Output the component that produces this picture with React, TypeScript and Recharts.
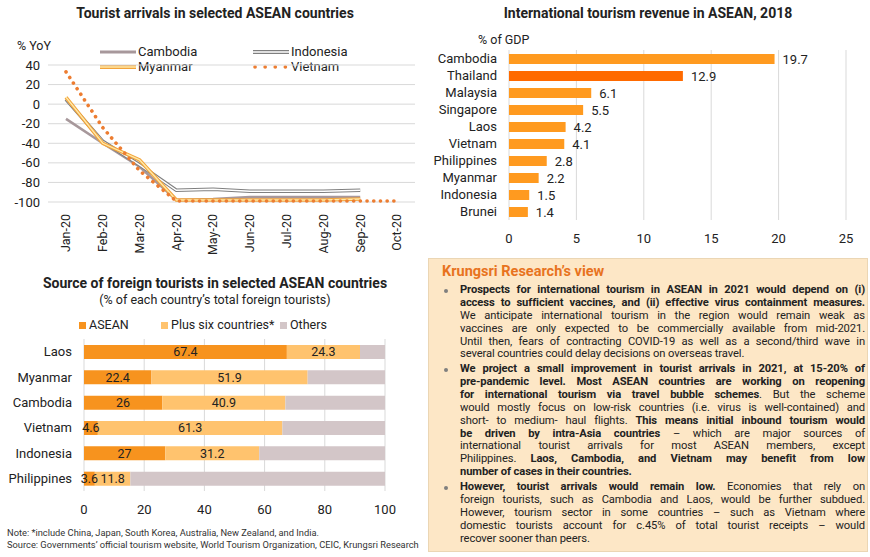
import React from 'react';
import {
  LineChart,
  Line,
  BarChart,
  Bar,
  XAxis,
  YAxis,
  CartesianGrid,
  Cell,
  LabelList,
} from 'recharts';

// Tourist arrivals, % YoY
const months = ['Jan-20', 'Feb-20', 'Mar-20', 'Apr-20', 'May-20', 'Jun-20', 'Jul-20', 'Aug-20', 'Sep-20', 'Oct-20'];
const cambodiaYoY = [-15, -40, -64, -98, -97, -95, -95, -95, -95, null];
const indonesiaYoY = [5, -38, -62, -88, -87, -89, -89, -89, -88, null];
const myanmarYoY = [7, -40, -57, -98, -98, -98, -98, -98, -97, null];
const vietnamYoY = [33, -24, -68, -99, -99, -99, -99, -99, -99, -99];
const yoyTicks = [40, 20, 0, -20, -40, -60, -80, -100];

// International tourism revenue, % of GDP, 2018
const revenueCountries = ['Cambodia', 'Thailand', 'Malaysia', 'Singapore', 'Laos', 'Vietnam', 'Philippines', 'Myanmar', 'Indonesia', 'Brunei'];
const revenueShare = [19.7, 12.9, 6.1, 5.5, 4.2, 4.1, 2.8, 2.2, 1.5, 1.4];
const revenueTicks = [0, 5, 10, 15, 20, 25];

// Source of foreign tourists, % of total
const sourceCountries = ['Laos', 'Myanmar', 'Cambodia', 'Vietnam', 'Indonesia', 'Philippines'];
const aseanShare = [67.4, 22.4, 26, 4.6, 27, 3.6];
const plusSixShare = [24.3, 51.9, 40.9, 61.3, 31.2, 11.8];
const shareTicks = [0, 20, 40, 60, 80, 100];

const FONT = 'Roboto, "Liberation Sans", sans-serif';
const TEXT = '#222';

const lineData = months.map((m, i) => ({
  month: m,
  Cambodia: cambodiaYoY[i],
  Indonesia: indonesiaYoY[i],
  Myanmar: myanmarYoY[i],
  Vietnam: vietnamYoY[i],
}));

const revenueData = revenueCountries.map((c, i) => ({ country: c, value: revenueShare[i] }));

const sourceData = sourceCountries.map((c, i) => ({
  country: c,
  asean: aseanShare[i],
  plusSix: plusSixShare[i],
  others: +(100 - aseanShare[i] - plusSixShare[i]).toFixed(1),
}));

const MonthTick = ({ x, y, payload }: any) => (
  <g transform={`translate(${x},${y})`}>
    <text transform="rotate(-90)" x={-4} y={0} dy="0.35em" textAnchor="end" fontSize={12.5} fill={TEXT} fontFamily={FONT}>
      {payload.value}
    </text>
  </g>
);

const LegendSwatch = ({ kind }: { kind: string }) => {
  if (kind === 'Cambodia')
    return <svg width={36} height={8}><line x1={0} y1={4} x2={36} y2={4} stroke="#A7989B" strokeWidth={3} /></svg>;
  if (kind === 'Indonesia')
    return (
      <svg width={36} height={8}>
        <line x1={0} y1={4} x2={36} y2={4} stroke="#7F7F7F" strokeWidth={4} />
        <line x1={0} y1={4} x2={36} y2={4} stroke="#fff" strokeWidth={1.6} />
      </svg>
    );
  if (kind === 'Myanmar')
    return (
      <svg width={36} height={8}>
        <line x1={0} y1={4} x2={36} y2={4} stroke="#F2A33A" strokeWidth={4} />
        <line x1={0} y1={4} x2={36} y2={4} stroke="#FFE9A8" strokeWidth={1.6} />
      </svg>
    );
  return (
    <svg width={36} height={8}>
      <line x1={2} y1={4} x2={36} y2={4} stroke="#ED7D31" strokeWidth={3.6} strokeDasharray="0.1 10" strokeLinecap="round" />
    </svg>
  );
};

const lineLegend = [
  { name: 'Cambodia', left: 100, top: 45 },
  { name: 'Indonesia', left: 253, top: 45 },
  { name: 'Myanmar', left: 100, top: 60 },
  { name: 'Vietnam', left: 253, top: 60 },
];

const ArrivalsChart = () => (
  <div style={{ position: 'absolute', left: 0, top: 0, width: 430, height: 260 }}>
    <div style={{ position: 'absolute', left: 0, width: 430, top: 5, textAlign: 'center', fontWeight: 700, fontSize: 14, color: TEXT, fontFamily: FONT }}>
      Tourist arrivals in selected ASEAN countries
    </div>
    <div style={{ position: 'absolute', left: 17, top: 38, fontSize: 12.5, color: TEXT, fontFamily: FONT }}>% YoY</div>
    {lineLegend.map((l) => (
      <div key={l.name} style={{ position: 'absolute', left: l.left, top: l.top, display: 'flex', alignItems: 'center', fontSize: 13, color: TEXT, fontFamily: FONT, lineHeight: '14px' }}>
        <LegendSwatch kind={l.name} />
        <span style={{ marginLeft: 2 }}>{l.name}</span>
      </div>
    ))}
    <div style={{ position: 'absolute', left: 0, top: 0 }}>
      <LineChart width={430} height={260} data={lineData} margin={{ top: 65, right: 15, left: 0, bottom: 0 }}>
        <CartesianGrid vertical={false} stroke="#D9D9D9" />
        <XAxis dataKey="month" padding={{ left: 18, right: 18 }} axisLine={false} tickLine={false} height={58} interval={0} tick={<MonthTick />} />
        <YAxis domain={[-100, 40]} ticks={yoyTicks} interval={0} width={48} axisLine={false} tickLine={false} tickMargin={2} tick={{ fontSize: 13, fill: TEXT, fontFamily: FONT }} />
        <Line dataKey="Cambodia" stroke="#A7989B" strokeWidth={2.6} dot={false} isAnimationActive={false} />
        <Line dataKey="Indonesia" stroke="#7F7F7F" strokeWidth={3.6} dot={false} isAnimationActive={false} />
        <Line dataKey="Indonesia" stroke="#FFFFFF" strokeWidth={1.4} dot={false} isAnimationActive={false} legendType="none" />
        <Line dataKey="Myanmar" stroke="#F2A33A" strokeWidth={3.6} dot={false} isAnimationActive={false} />
        <Line dataKey="Myanmar" stroke="#FFE9A8" strokeWidth={1.4} dot={false} isAnimationActive={false} legendType="none" />
        <Line dataKey="Vietnam" stroke="#ED7D31" strokeWidth={3.6} strokeDasharray="0.1 6.6" strokeLinecap="round" dot={false} isAnimationActive={false} />
      </LineChart>
    </div>
  </div>
);

const RevenueChart = () => (
  <div style={{ position: 'absolute', left: 430, top: 0, width: 440, height: 250 }}>
    <div style={{ position: 'absolute', left: 0, width: 436, top: 5, textAlign: 'center', fontWeight: 700, fontSize: 14, color: TEXT, fontFamily: FONT }}>
      International tourism revenue in ASEAN, 2018
    </div>
    <div style={{ position: 'absolute', left: 48, top: 32, fontSize: 12.5, color: TEXT, fontFamily: FONT }}>% of GDP</div>
    <div style={{ position: 'absolute', left: 0, top: 0 }}>
      <BarChart layout="vertical" width={440} height={250} data={revenueData} margin={{ top: 50, right: 24, left: 0, bottom: 5 }} barSize={10}>
        <CartesianGrid horizontal={false} stroke="#D9D9D9" />
        <XAxis type="number" domain={[0, 25]} ticks={revenueTicks} axisLine={false} tickLine={false} height={25} tickMargin={8} tick={{ fontSize: 13, fill: TEXT, fontFamily: FONT }} />
        <YAxis type="category" dataKey="country" width={79} axisLine={false} tickLine={false} tickMargin={6} interval={0} tick={{ fontSize: 13, fill: TEXT, fontFamily: FONT }} />
        <Bar dataKey="value" isAnimationActive={false}>
          {revenueData.map((d) => (
            <Cell key={d.country} fill={d.country === 'Thailand' ? '#FF6A00' : '#FF9A1F'} />
          ))}
          <LabelList dataKey="value" position="right" offset={8} fontSize={13} fill={TEXT} fontFamily={FONT} />
        </Bar>
      </BarChart>
    </div>
  </div>
);

const sourceLegend = [
  { name: 'ASEAN', color: '#F7931E', left: 79 },
  { name: 'Plus six countries*', color: '#FFC36E', left: 161 },
  { name: 'Others', color: '#D3C6C8', left: 280 },
];

const SourceChart = () => (
  <div style={{ position: 'absolute', left: 0, top: 270, width: 430, height: 260 }}>
    <div style={{ position: 'absolute', left: 0, width: 430, top: 5, textAlign: 'center', fontWeight: 700, fontSize: 14, color: TEXT, fontFamily: FONT }}>
      Source of foreign tourists in selected ASEAN countries
    </div>
    <div style={{ position: 'absolute', left: 0, width: 430, top: 22, textAlign: 'center', fontSize: 12.5, color: TEXT, fontFamily: FONT }}>
      (% of each country’s total foreign tourists)
    </div>
    {sourceLegend.map((l) => (
      <div key={l.name} style={{ position: 'absolute', left: l.left, top: 48, display: 'flex', alignItems: 'center', fontSize: 12.5, color: TEXT, fontFamily: FONT, lineHeight: '14px' }}>
        <span style={{ display: 'inline-block', width: 7, height: 7, background: l.color, marginRight: 3 }} />
        {l.name}
      </div>
    ))}
    <div style={{ position: 'absolute', left: 0, top: 60 }}>
      <BarChart layout="vertical" width={430} height={200} data={sourceData} margin={{ top: 9, right: 45, left: 0, bottom: 14 }} barSize={14}>
        <CartesianGrid horizontal={false} stroke="#D9D9D9" />
        <XAxis type="number" domain={[0, 100]} ticks={shareTicks} axisLine={false} tickLine={false} height={25} tickMargin={8} tick={{ fontSize: 13, fill: TEXT, fontFamily: FONT }} />
        <YAxis type="category" dataKey="country" width={84} axisLine={false} tickLine={false} tickMargin={6} interval={0} tick={{ fontSize: 13, fill: TEXT, fontFamily: FONT }} />
        <Bar dataKey="asean" stackId="s" fill="#F7931E" isAnimationActive={false}>
          <LabelList dataKey="asean" position="center" fontSize={12.5} fill={TEXT} fontFamily={FONT} />
        </Bar>
        <Bar dataKey="plusSix" stackId="s" fill="#FFC36E" isAnimationActive={false}>
          <LabelList dataKey="plusSix" position="center" fontSize={12.5} fill={TEXT} fontFamily={FONT} />
        </Bar>
        <Bar dataKey="others" stackId="s" fill="#D3C6C8" isAnimationActive={false} />
      </BarChart>
    </div>
  </div>
);

type Seg = [string, boolean];
type Para = Seg[][];

const paragraphs: Para[] = [
  [
    [['Prospects for international tourism in ASEAN in 2021 would depend on (i)', true]],
    [['access to sufficient vaccines, and (ii) effective virus containment measures.', true]],
    [['We anticipate international tourism in the region would remain weak as', false]],
    [['vaccines are only expected to be commercially available from mid-2021.', false]],
    [['Until then, fears of contracting COVID-19 as well as a second/third wave in', false]],
    [['several countries could delay decisions on overseas travel.', false]],
  ],
  [
    [['We project a small improvement in tourist arrivals in 2021, at 15-20% of', true]],
    [['pre-pandemic level. Most ASEAN countries are working on reopening', true]],
    [['for international tourism via travel bubble schemes', true], ['. But the scheme', false]],
    [['would mostly focus on low-risk countries (i.e. virus is well-contained) and', false]],
    [['short- to medium- haul flights. ', false], ['This means initial inbound tourism would', true]],
    [['be driven by intra-Asia countries', true], [' – which are major sources of', false]],
    [['international tourist arrivals for most ASEAN members, except', false]],
    [['Philippines. ', false], ['Laos, Cambodia, and Vietnam may benefit from low', true]],
    [['number of cases in their countries.', true]],
  ],
  [
    [['However, tourist arrivals would remain low.', true], [' Economies that rely on', false]],
    [['foreign tourists, such as Cambodia and Laos, would be further subdued.', false]],
    [['However, tourism sector in some countries – such as Vietnam where', false]],
    [['domestic tourists account for c.45% of total tourist receipts – would', false]],
    [['recover sooner than peers.', false]],
  ],
];

const ViewPanel = () => (
  <div style={{ position: 'absolute', left: 428, top: 258, width: 440, height: 294, boxSizing: 'border-box', background: '#FDE7C6', border: '1px solid #EBD6B4', fontFamily: FONT, color: TEXT }}>
    <div style={{ position: 'absolute', left: 13, top: 4, fontSize: 14.5, fontWeight: 700, color: '#E8731E' }}>Krungsri Research’s view</div>
    <div style={{ position: 'absolute', left: 31, top: 25, width: 405 }}>
      {paragraphs.map((p, pi) => (
        <div key={pi} style={{ position: 'relative', marginTop: pi === 0 ? 0 : 1.8 }}>
          <span style={{ position: 'absolute', left: -16, top: 5, width: 4, height: 4, borderRadius: 2, background: '#7F7F7F' }} />
          {p.map((line, li) => (
            <div
              key={li}
              style={{
                fontSize: 11.2,
                letterSpacing: -0.1,
                lineHeight: '12.9px',
                height: 12.9,
                overflow: 'visible',
                textAlign: 'justify',
                textAlignLast: li === p.length - 1 ? 'left' : 'justify',
              }}
            >
              {line.map(([t, b], si) => (
                <span key={si} style={{ fontWeight: b ? 700 : 400 }}>{t}</span>
              ))}
            </div>
          ))}
        </div>
      ))}
    </div>
  </div>
);

const Notes = () => (
  <div style={{ position: 'absolute', left: 7, top: 527, fontSize: 9.3, lineHeight: '12px', color: '#333', fontFamily: FONT }}>
    <div>Note: *include China, Japan, South Korea, Australia, New Zealand, and India.</div>
    <div>Source: Governments’ official tourism website, World Tourism Organization, CEIC, Krungsri Research</div>
  </div>
);

export default function App() {
  return (
    <div style={{ position: 'relative', width: 870, height: 557, background: '#fff', overflow: 'hidden' }}>
      <style>{'body{margin:0}'}</style>
      <ArrivalsChart />
      <RevenueChart />
      <SourceChart />
      <ViewPanel />
      <Notes />
    </div>
  );
}
